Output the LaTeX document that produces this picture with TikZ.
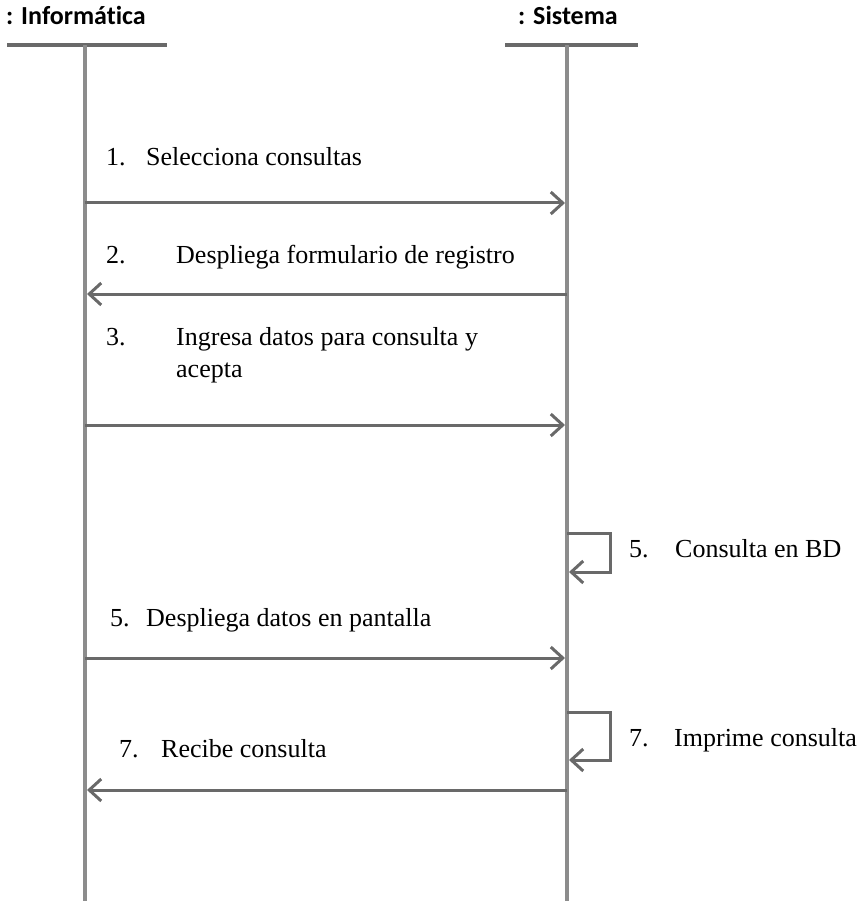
\documentclass[tikz,border=0pt]{standalone}
\usepackage{fontspec}
\setmainfont{Liberation Serif}
\newfontfamily\hdfont[Ligatures=NoCommon]{Carlito}
\usetikzlibrary{arrows.meta}
\definecolor{lifegray}{RGB}{140,140,140}
\definecolor{arrgray}{RGB}{105,105,105}
\begin{document}
\begin{tikzpicture}[x=1pt,y=-1pt,
  lifeline/.style={draw=lifegray,line width=4pt},
  headbar/.style={draw=arrgray,line width=3.5pt},
  msg/.style={draw=arrgray,line width=3pt,-{Straight Barb[length=12pt,width=22pt,line width=3pt]}},
  lbl/.style={font=\fontsize{26}{30}\selectfont,anchor=base west,inner sep=0pt},
  hd/.style={font=\hdfont\bfseries\fontsize{26}{28}\selectfont,anchor=base west,inner sep=0pt}]
\useasboundingbox (0,0) rectangle (859,901);
% headers
\node[hd] (hi) at (6,25) {: Informática};
\node[hd] (hs) at (518,25) {: Sistema};
\coordinate (ib1) at (7,45); \coordinate (ib2) at (167,45);
\coordinate (sb1) at (505,45); \coordinate (sb2) at (638,45);
\draw[headbar] (ib1) -- (ib2);
\draw[headbar] (sb1) -- (sb2);
% lifelines
\coordinate (it) at (85,45); \coordinate (ie) at (85,901);
\coordinate (st) at (567,45); \coordinate (se) at (567,901);
\draw[lifeline] (it) -- (ie);
\draw[lifeline] (st) -- (se);
% messages
\coordinate (a1) at (85,203); \coordinate (b1) at (565,203);
\draw[msg] (a1) -- (b1);
\node[lbl] (l1n) at (106,166) {1.};
\node[lbl] (l1) at (146,166) {Selecciona consultas};

\coordinate (a2) at (567,294); \coordinate (b2) at (87,294);
\draw[msg] (a2) -- (b2);
\node[lbl] (l2n) at (106,263) {2.};
\node[lbl] (l2) at (176,263) {Despliega formulario de registro};

\coordinate (a3) at (85,425); \coordinate (b3) at (565,425);
\draw[msg] (a3) -- (b3);
\node[lbl] (l3n) at (106,345) {3.};
\node[lbl] (l3) at (176,345) {Ingresa datos para consulta y};
\node[lbl] (l3b) at (176,377) {acepta};

\coordinate (s1a) at (567,533); \coordinate (s1b) at (610,533);
\coordinate (s1c) at (610,572); \coordinate (s1d) at (569,572);
\draw[msg] (s1a) -- (s1b) -- (s1c) -- (s1d);
\node[lbl] (l4n) at (629,557) {5.};
\node[lbl] (l4) at (675,557) {Consulta en BD};

\coordinate (a5) at (85,658); \coordinate (b5) at (565,658);
\draw[msg] (a5) -- (b5);
\node[lbl] (l5n) at (110,626) {5.};
\node[lbl] (l5) at (146,626) {Despliega datos en pantalla};

\coordinate (s2a) at (567,712); \coordinate (s2b) at (610,712);
\coordinate (s2c) at (610,760); \coordinate (s2d) at (569,760);
\draw[msg] (s2a) -- (s2b) -- (s2c) -- (s2d);
\node[lbl] (l6n) at (629,746) {7.};
\node[lbl] (l6) at (674,746) {Imprime consulta};

\coordinate (a7) at (567,790); \coordinate (b7) at (87,790);
\draw[msg] (a7) -- (b7);
\node[lbl] (l7n) at (119,757) {7.};
\node[lbl] (l7) at (161,757) {Recibe consulta};
\end{tikzpicture}
\end{document}
